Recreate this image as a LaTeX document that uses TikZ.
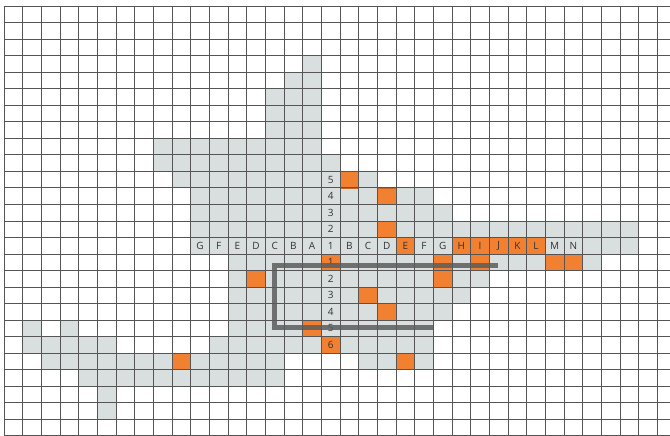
\documentclass[tikz,border=0pt]{standalone}
\usepackage{fontspec}
\setmainfont{Open Sans}
\usepackage{xcolor}
\usepackage{tikz}
\usetikzlibrary{positioning}

\definecolor{cellgray}{RGB}{217,222,222}
\definecolor{cellorange}{RGB}{241,128,48}
\definecolor{gridline}{RGB}{85,85,85}
\definecolor{bracketgray}{RGB}{92,92,92}

\begin{document}
\begin{tikzpicture}[
  x=18.667pt, y=-16.53pt,
  graycell/.style={fill=cellgray},
  orangecell/.style={fill=cellorange, draw=cellorange!80!black, line width=0.5pt},
  gridlines/.style={draw=gridline, line width=0.7pt},
  celltext/.style={font=\fontsize{10}{10}\selectfont, text=black!80, inner sep=0pt},
  bracket/.style={draw=bracketgray, line width=5pt, opacity=0.85, line join=miter}
]

%% Canvas
\useasboundingbox (-0.21428,-0.36298) rectangle (35.6779,26.0133);
\clip (-0.21428,-0.36298) rectangle (35.6779,26.0133);

%% Gray cells (row/first column/last column)
\foreach \r/\a/\b in {3/16/16, 4/15/16, 5/14/16, 6/14/16, 7/14/16, 8/8/16, 9/8/17,
  10/9/19, 11/10/22, 12/10/23, 13/10/33, 14/10/33, 15/12/31, 16/12/25, 17/12/24,
  18/12/23, 19/12/22, 19/1/1, 19/3/3, 20/1/5, 20/11/22, 21/2/14, 21/19/22,
  22/4/14, 23/5/5, 24/5/5}
  \fill[graycell] (\a,\r) rectangle ({\b+1},{\r+1});

%% Orange cells (column/row)
\foreach \c/\r in {18/10, 20/11, 20/13, 21/14, 24/14, 25/14, 26/14, 27/14, 28/14,
  17/15, 23/15, 25/15, 29/15, 30/15, 13/16, 23/16, 19/17, 20/18, 16/19, 17/20,
  9/21, 21/21}
  \filldraw[orangecell] (\c,\r) rectangle ++(1,1);

%% Grid
\foreach \i in {0,...,35}
  \draw[gridlines] (\i,0) -- (\i,26.0133);
\foreach \j in {0,...,26}
  \draw[gridlines] (0,\j) -- (35.6779,\j);

%% Axis labels
\foreach \t [count=\k] in {G,F,E,D,C,B,A}
  \node[celltext] (left-\t) at ({9.5+\k},14.5) {\t};
\foreach \t [count=\k] in {B,C,D,E,F,G,H,I,J,K,L,M,N}
  \node[celltext] (right-\t) at ({17.5+\k},14.5) {\t};
\node[celltext] (up-1) at (17.5,14.5) {1};
\foreach \n in {2,...,5}
  \node[celltext] (up-\n) at (17.5,{15.5-\n}) {\n};
\foreach \n in {1,...,6}
  \node[celltext] (down-\n) at (17.5,{14.5+\n}) {\n};

%% Bracket
\coordinate (top-end) at (26.464,15.717);
\coordinate (corner-top) at (14.475,15.717);
\coordinate (corner-bottom) at (14.475,19.467);
\coordinate (bottom-end) at (22.982,19.467);
\draw[bracket] (top-end) -- (corner-top) -- (corner-bottom) -- (bottom-end);

\end{tikzpicture}
\end{document}
